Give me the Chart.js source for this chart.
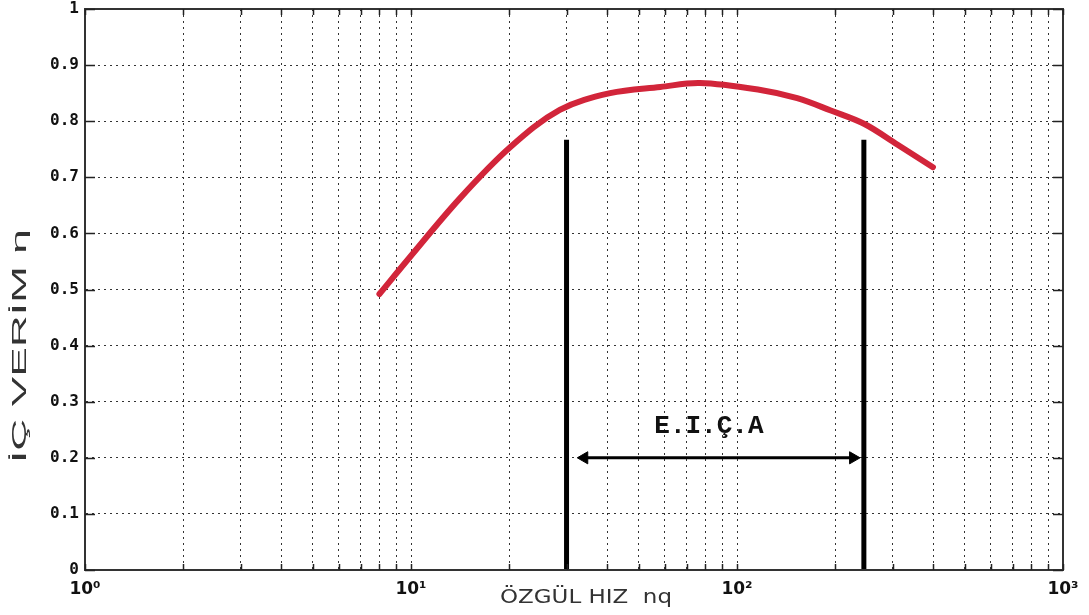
<!DOCTYPE html>
<html>
<head>
<meta charset="utf-8">
<script src="https://cdn.jsdelivr.net/npm/chart.js@4/dist/chart.umd.min.js"></script>
<style>
html,body{margin:0;padding:0;background:#fff;}
#wrap{width:1089px;height:615px;}
</style>
</head>
<body>
<div id="wrap"><canvas id="c" width="1089" height="615"></canvas></div>
<script>
// ---- data ----
const curveX = [8.0, 9.93, 14.1, 20.1, 28.6, 40.8, 58.2, 77, 117, 153, 194, 246, 311, 399];
const curveY = [0.492, 0.558, 0.662, 0.753, 0.82, 0.85, 0.861, 0.868, 0.856, 0.841, 0.819, 0.795, 0.758, 0.718];
const boundaryX = [30, 245];
const boundaryTop = 0.767;
const arrowX = [34, 227];
const arrowY = 0.2;
const rangeLabel = 'E.I.Ç.A';
const rangeLabelX = 82;
const rangeLabelY = 0.255;
const xTicks = [1,2,3,4,5,6,7,8,9,10,20,30,40,50,60,70,80,90,100,200,300,400,500,600,700,800,900,1000];
const xMajorTicks = [1, 10, 100, 1000];
const xMajorLabels = ['10\u2070', '10\u00B9', '10\u00B2', '10\u00B3'];
const yTicks = [0,0.1,0.2,0.3,0.4,0.5,0.6,0.7,0.8,0.9,1];
const yTickLabels = ['0','0.1','0.2','0.3','0.4','0.5','0.6','0.7','0.8','0.9','1'];
const xTitle = 'ÖZGÜL HIZ  nq';
const yTitle = 'İÇ VERİM η';

const curve = curveX.map((x,i)=>({x:x, y:curveY[i]}));
const vline = x => [{x:x,y:0},{x:x,y:boundaryTop}];
const arrow = arrowX.map(x=>({x:x,y:arrowY}));

const decor = {
  id:'decor',
  afterDraw(chart){
    const ctx = chart.ctx, a = chart.chartArea;
    const xs = chart.scales.x, ys = chart.scales.y;
    ctx.save();
    // box
    ctx.strokeStyle = '#333'; ctx.lineWidth = 2;
    ctx.strokeRect(a.left, a.top, a.right-a.left, a.bottom-a.top);
    // inward ticks
    ctx.lineWidth = 1.5; ctx.strokeStyle = '#222';
    xTicks.forEach(v=>{
      const px = Math.round(xs.getPixelForValue(v))+0.5;
      ctx.beginPath(); ctx.moveTo(px,a.bottom); ctx.lineTo(px,a.bottom-6);
      ctx.moveTo(px,a.top); ctx.lineTo(px,a.top+6); ctx.stroke();
    });
    yTicks.forEach(v=>{
      const py = Math.round(ys.getPixelForValue(v))+0.5;
      ctx.beginPath(); ctx.moveTo(a.left,py); ctx.lineTo(a.left+10,py);
      ctx.moveTo(a.right,py); ctx.lineTo(a.right-10,py); ctx.stroke();
    });
    // range label
    ctx.fillStyle = '#111';
    ctx.font = 'bold 26px "Liberation Mono", "Courier New", monospace';
    ctx.textAlign = 'center'; ctx.textBaseline = 'middle';
    ctx.fillText(rangeLabel, xs.getPixelForValue(rangeLabelX), ys.getPixelForValue(rangeLabelY));
    // x title (stretched)
    ctx.fillStyle = '#333';
    ctx.font = '20px "DejaVu Sans", sans-serif';
    let w = ctx.measureText(xTitle).width;
    ctx.save();
    ctx.translate(586, 598);
    ctx.scale(172/w, 1);
    ctx.fillText(xTitle, 0, 0);
    ctx.restore();
    // y title (rotated, stretched)
    ctx.font = '20px "Liberation Sans", sans-serif';
    w = ctx.measureText(yTitle).width;
    ctx.save();
    ctx.translate(20, 346);
    ctx.rotate(-Math.PI/2);
    ctx.scale(234/w, 1);
    ctx.fillText(yTitle, 0, 0);
    ctx.restore();
    ctx.restore();
  }
};

new Chart(document.getElementById('c'), {
  type:'line',
  data:{
    datasets:[
      {data: vline(boundaryX[0]), borderColor:'#000', borderWidth:5, pointRadius:0, borderCapStyle:'butt'},
      {data: vline(boundaryX[1]), borderColor:'#000', borderWidth:5, pointRadius:0, borderCapStyle:'butt'},
      {data: arrow, borderColor:'#000', backgroundColor:'#000', borderWidth:3,
       pointStyle:'triangle', pointRadius:7, pointRotation:[270,90], pointBorderWidth:1},
      {data: curve, borderColor:'#d2253a', borderWidth:6, pointRadius:0, tension:0.35,
       borderCapStyle:'round'}
    ]
  },
  options:{
    responsive:false, animation:false,
    layout:{padding:{top:9,right:26,left:0,bottom:0}},
    plugins:{legend:{display:false}, tooltip:{enabled:false}},
    scales:{
      x:{
        type:'logarithmic', min:1, max:1000,
        afterBuildTicks(s){ s.ticks = xTicks.map(v=>({value:v})); },
        afterFit(s){ s.height = 45; s.paddingLeft = 0; s.paddingRight = 0; },
        grid:{color:'#333', lineWidth:1, drawTicks:false},
        border:{display:true, color:'#333', width:2, dash:[2,4]},
        ticks:{autoSkip:false, maxRotation:0, padding:9, color:'#111',
          font:{family:'"DejaVu Sans", sans-serif', size:17, weight:'bold'},
          callback(v){ const i = xMajorTicks.indexOf(v); return i>=0 ? xMajorLabels[i] : ''; }}
      },
      y:{
        type:'linear', min:0, max:1,
        afterBuildTicks(s){ s.ticks = yTicks.map(v=>({value:v})); },
        afterFit(s){ s.width = 85; s.paddingTop = 0; s.paddingBottom = 0; },
        grid:{color:'#333', lineWidth:1, drawTicks:false},
        border:{display:true, color:'#333', width:2, dash:[2,4]},
        ticks:{padding:6, color:'#111',
          font:{family:'"DejaVu Sans Mono", monospace', size:16, weight:'bold'},
          callback(v){ const i = yTicks.findIndex(t=>Math.abs(t-v)<1e-9); return i>=0 ? yTickLabels[i] : ''; }}
      }
    }
  },
  plugins:[decor]
});
</script>
</body>
</html>
